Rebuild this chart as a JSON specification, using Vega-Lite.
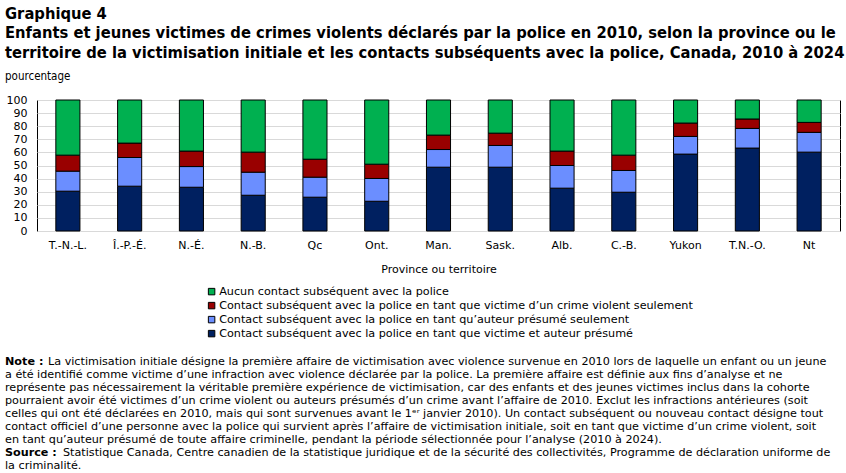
{
  "$schema": "https://vega.github.io/schema/vega-lite/v6.json",
  "background": "white",
  "padding": 5,
  "title": {
    "text": ["Graphique 4", "Enfants et jeunes victimes de crimes violents déclarés par la police en 2010, selon la province ou le", "territoire de la victimisation initiale et les contacts subséquents avec la police, Canada, 2010 à 2024"],
    "subtitle": "pourcentage",
    "anchor": "start",
    "font": "DejaVu Sans Condensed, DejaVu Sans, sans-serif",
    "fontSize": 16.4,
    "fontWeight": "bold",
    "lineHeight": 19.5,
    "color": "black",
    "subtitleFont": "DejaVu Sans Condensed, DejaVu Sans, sans-serif",
    "subtitleFontSize": 11.5,
    "subtitleColor": "black",
    "subtitlePadding": 10,
    "offset": 11
  },
  "config": {
    "concat": {"spacing": 81},
    "axis": {"labelColor": "black", "titleColor": "black"}
  },
  "datasets": {
    "chart": [
      {"prov": "T.-N.-L.", "cat": "Contact subséquent avec la police en tant que victime et auteur présumé", "val": 30.4},
      {"prov": "T.-N.-L.", "cat": "Contact subséquent avec la police en tant qu’auteur présumé seulement", "val": 15.3},
      {"prov": "T.-N.-L.", "cat": "Contact subséquent avec la police en tant que victime d’un crime violent seulement", "val": 12.2},
      {"prov": "T.-N.-L.", "cat": "Aucun contact subséquent avec la police", "val": 42.1},
      {"prov": "Î.-P.-É.", "cat": "Contact subséquent avec la police en tant que victime et auteur présumé", "val": 34.2},
      {"prov": "Î.-P.-É.", "cat": "Contact subséquent avec la police en tant qu’auteur présumé seulement", "val": 21.9},
      {"prov": "Î.-P.-É.", "cat": "Contact subséquent avec la police en tant que victime d’un crime violent seulement", "val": 11.0},
      {"prov": "Î.-P.-É.", "cat": "Aucun contact subséquent avec la police", "val": 32.9},
      {"prov": "N.-É.", "cat": "Contact subséquent avec la police en tant que victime et auteur présumé", "val": 33.4},
      {"prov": "N.-É.", "cat": "Contact subséquent avec la police en tant qu’auteur présumé seulement", "val": 15.8},
      {"prov": "N.-É.", "cat": "Contact subséquent avec la police en tant que victime d’un crime violent seulement", "val": 11.8},
      {"prov": "N.-É.", "cat": "Aucun contact subséquent avec la police", "val": 39.0},
      {"prov": "N.-B.", "cat": "Contact subséquent avec la police en tant que victime et auteur présumé", "val": 27.3},
      {"prov": "N.-B.", "cat": "Contact subséquent avec la police en tant qu’auteur présumé seulement", "val": 17.6},
      {"prov": "N.-B.", "cat": "Contact subséquent avec la police en tant que victime d’un crime violent seulement", "val": 15.3},
      {"prov": "N.-B.", "cat": "Aucun contact subséquent avec la police", "val": 39.8},
      {"prov": "Qc", "cat": "Contact subséquent avec la police en tant que victime et auteur présumé", "val": 25.8},
      {"prov": "Qc", "cat": "Contact subséquent avec la police en tant qu’auteur présumé seulement", "val": 15.3},
      {"prov": "Qc", "cat": "Contact subséquent avec la police en tant que victime d’un crime violent seulement", "val": 13.7},
      {"prov": "Qc", "cat": "Aucun contact subséquent avec la police", "val": 45.2},
      {"prov": "Ont.", "cat": "Contact subséquent avec la police en tant que victime et auteur présumé", "val": 22.7},
      {"prov": "Ont.", "cat": "Contact subséquent avec la police en tant qu’auteur présumé seulement", "val": 17.4},
      {"prov": "Ont.", "cat": "Contact subséquent avec la police en tant que victime d’un crime violent seulement", "val": 10.9},
      {"prov": "Ont.", "cat": "Aucun contact subséquent avec la police", "val": 49.0},
      {"prov": "Man.", "cat": "Contact subséquent avec la police en tant que victime et auteur présumé", "val": 48.7},
      {"prov": "Man.", "cat": "Contact subséquent avec la police en tant qu’auteur présumé seulement", "val": 13.5},
      {"prov": "Man.", "cat": "Contact subséquent avec la police en tant que victime d’un crime violent seulement", "val": 11.0},
      {"prov": "Man.", "cat": "Aucun contact subséquent avec la police", "val": 26.8},
      {"prov": "Sask.", "cat": "Contact subséquent avec la police en tant que victime et auteur présumé", "val": 48.7},
      {"prov": "Sask.", "cat": "Contact subséquent avec la police en tant qu’auteur présumé seulement", "val": 16.6},
      {"prov": "Sask.", "cat": "Contact subséquent avec la police en tant que victime d’un crime violent seulement", "val": 9.4},
      {"prov": "Sask.", "cat": "Aucun contact subséquent avec la police", "val": 25.3},
      {"prov": "Alb.", "cat": "Contact subséquent avec la police en tant que victime et auteur présumé", "val": 32.7},
      {"prov": "Alb.", "cat": "Contact subséquent avec la police en tant qu’auteur présumé seulement", "val": 17.3},
      {"prov": "Alb.", "cat": "Contact subséquent avec la police en tant que victime d’un crime violent seulement", "val": 11.0},
      {"prov": "Alb.", "cat": "Aucun contact subséquent avec la police", "val": 39.0},
      {"prov": "C.-B.", "cat": "Contact subséquent avec la police en tant que victime et auteur présumé", "val": 29.6},
      {"prov": "C.-B.", "cat": "Contact subséquent avec la police en tant qu’auteur présumé seulement", "val": 16.6},
      {"prov": "C.-B.", "cat": "Contact subséquent avec la police en tant que victime d’un crime violent seulement", "val": 11.7},
      {"prov": "C.-B.", "cat": "Aucun contact subséquent avec la police", "val": 42.1},
      {"prov": "Yukon", "cat": "Contact subséquent avec la police en tant que victime et auteur présumé", "val": 58.7},
      {"prov": "Yukon", "cat": "Contact subséquent avec la police en tant qu’auteur présumé seulement", "val": 13.5},
      {"prov": "Yukon", "cat": "Contact subséquent avec la police en tant que victime d’un crime violent seulement", "val": 10.2},
      {"prov": "Yukon", "cat": "Aucun contact subséquent avec la police", "val": 17.6},
      {"prov": "T.N.-O.", "cat": "Contact subséquent avec la police en tant que victime et auteur présumé", "val": 63.3},
      {"prov": "T.N.-O.", "cat": "Contact subséquent avec la police en tant qu’auteur présumé seulement", "val": 15.0},
      {"prov": "T.N.-O.", "cat": "Contact subséquent avec la police en tant que victime d’un crime violent seulement", "val": 7.2},
      {"prov": "T.N.-O.", "cat": "Aucun contact subséquent avec la police", "val": 14.5},
      {"prov": "Nt", "cat": "Contact subséquent avec la police en tant que victime et auteur présumé", "val": 60.2},
      {"prov": "Nt", "cat": "Contact subséquent avec la police en tant qu’auteur présumé seulement", "val": 15.1},
      {"prov": "Nt", "cat": "Contact subséquent avec la police en tant que victime d’un crime violent seulement", "val": 7.6},
      {"prov": "Nt", "cat": "Aucun contact subséquent avec la police", "val": 17.1}
    ],
    "notes": [
      {"gras": "Note :", "texte": "La victimisation initiale désigne la première affaire de victimisation avec violence survenue en 2010 lors de laquelle un enfant ou un jeune"},
      {"gras": "", "texte": "a été identifié comme victime d’une infraction avec violence déclarée par la police. La première affaire est définie aux fins d’analyse et ne"},
      {"gras": "", "texte": "représente pas nécessairement la véritable première expérience de victimisation, car des enfants et des jeunes victimes inclus dans la cohorte"},
      {"gras": "", "texte": "pourraient avoir été victimes d’un crime violent ou auteurs présumés d’un crime avant l’affaire de 2010. Exclut les infractions antérieures (soit"},
      {"gras": "", "texte": "celles qui ont été déclarées en 2010, mais qui sont survenues avant le 1ᵉʳ janvier 2010). Un contact subséquent ou nouveau contact désigne tout"},
      {"gras": "", "texte": "contact officiel d’une personne avec la police qui survient après l’affaire de victimisation initiale, soit en tant que victime d’un crime violent, soit"},
      {"gras": "", "texte": "en tant qu’auteur présumé de toute affaire criminelle, pendant la période sélectionnée pour l’analyse (2010 à 2024)."},
      {"gras": "Source :", "texte": "Statistique Canada, Centre canadien de la statistique juridique et de la sécurité des collectivités, Programme de déclaration uniforme de"},
      {"gras": "", "texte": "la criminalité."}
    ]
  },
  "vconcat": [
    {
      "width": 803,
      "height": 131,
      "view": {"stroke": "black", "strokeWidth": 1},
      "data": {"name": "chart"},
      "transform": [{"window": [{"op": "row_number", "as": "rang"}]}],
      "mark": {"type": "bar", "stroke": "black", "strokeWidth": 1},
      "encoding": {
        "x": {
          "field": "prov", "type": "nominal", "sort": null,
          "scale": {"paddingInner": 0.61, "paddingOuter": 0.305},
          "axis": {
            "labelAngle": 0, "ticks": false, "domain": false, "labelPadding": 8,
            "labelFont": "DejaVu Sans", "labelFontSize": 11,
            "title": "Province ou territoire", "titleFont": "DejaVu Sans", "titleFontSize": 11,
            "titleFontWeight": "normal", "titlePadding": 13
          }
        },
        "y": {
          "field": "val", "type": "quantitative", "stack": true,
          "scale": {"domain": [0, 100], "nice": false},
          "axis": {
            "title": null, "values": [0, 10, 20, 30, 40, 50, 60, 70, 80, 90, 100],
            "ticks": false, "domain": false, "labelPadding": 10,
            "labelFont": "DejaVu Sans", "labelFontSize": 11,
            "gridColor": "#d9d9d9", "gridWidth": 1
          }
        },
        "order": {"field": "rang", "type": "quantitative", "sort": "ascending"},
        "color": {
          "field": "cat", "type": "nominal",
          "sort": [
            "Contact subséquent avec la police en tant que victime et auteur présumé",
            "Contact subséquent avec la police en tant qu’auteur présumé seulement",
            "Contact subséquent avec la police en tant que victime d’un crime violent seulement",
            "Aucun contact subséquent avec la police"
          ],
          "scale": {"range": ["#002060", "#6b8eff", "#990000", "#00b050"]},
          "legend": {
            "title": null,
            "orient": "none", "legendX": 169, "legendY": 186,
            "direction": "vertical",
            "values": [
              "Aucun contact subséquent avec la police",
              "Contact subséquent avec la police en tant que victime d’un crime violent seulement",
              "Contact subséquent avec la police en tant qu’auteur présumé seulement",
              "Contact subséquent avec la police en tant que victime et auteur présumé"
            ],
            "symbolType": "square", "symbolSize": 42, "symbolStrokeColor": "black", "symbolStrokeWidth": 1,
            "symbolOpacity": 1,
            "labelFont": "DejaVu Sans", "labelFontSize": 11.2, "labelColor": "black", "labelLimit": 0,
            "labelOffset": 2, "rowPadding": 2
          }
        }
      }
    },
    {
      "width": 803,
      "height": 116,
      "view": {"stroke": null},
      "data": {"name": "notes"},
      "encoding": {
        "y": {"field": "texte", "type": "nominal", "sort": null, "axis": null, "scale": {"paddingInner": 0, "paddingOuter": 0}},
        "x": {"value": 0}
      },
      "layer": [
        {
          "mark": {"type": "text", "align": "left", "baseline": "middle", "dx": -32, "font": "DejaVu Sans", "fontSize": 11.2, "fontWeight": "bold", "color": "black"},
          "encoding": {"text": {"field": "gras"}}
        },
        {
          "transform": [{"filter": "datum.gras === ''"}],
          "mark": {"type": "text", "align": "left", "baseline": "middle", "dx": -32, "font": "DejaVu Sans", "fontSize": 11.2, "color": "black"},
          "encoding": {"text": {"field": "texte"}}
        },
        {
          "transform": [{"filter": "datum.gras === 'Note :'"}],
          "mark": {"type": "text", "align": "left", "baseline": "middle", "dx": 11, "font": "DejaVu Sans", "fontSize": 11.2, "color": "black"},
          "encoding": {"text": {"field": "texte"}}
        },
        {
          "transform": [{"filter": "datum.gras === 'Source :'"}],
          "mark": {"type": "text", "align": "left", "baseline": "middle", "dx": 26, "font": "DejaVu Sans", "fontSize": 11.2, "color": "black"},
          "encoding": {"text": {"field": "texte"}}
        }
      ]
    }
  ]
}
